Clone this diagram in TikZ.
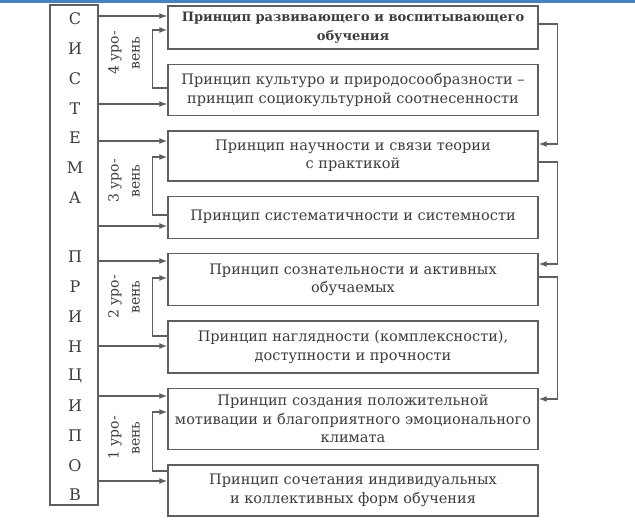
\documentclass[tikz,border=0pt]{standalone}
\usepackage{fontspec}
\setmainfont{DejaVu Serif}
\usepackage{tikz}
\usepackage{xcolor}
\usetikzlibrary{arrows.meta,positioning}
\definecolor{linegray}{RGB}{95,95,95}
\definecolor{textgray}{RGB}{60,60,60}
\definecolor{topblue}{RGB}{70,130,190}

\begin{document}
\begin{tikzpicture}[x=1pt, y=-1pt, node distance=14pt,
        every node/.style={text=textgray},
        pbox/.style={rectangle,draw=linegray,line width=1.4pt,minimum width=370pt,
          inner sep=0pt,align=center,font=\fontsize{14.5}{18.5}\selectfont},
        sysbox/.style={rectangle,draw=linegray,line width=1.4pt,minimum width=48pt,
          minimum height=500pt,inner sep=0pt},
        letter/.style={font=\fontsize{16}{16}\selectfont},
        lvl/.style={rotate=90,align=center,font=\fontsize{14}{21}\selectfont},
        arrow/.style={-{Latex[length=8pt,width=6pt]},draw=linegray,line width=1.2pt}]
        \useasboundingbox (0,0) rectangle (635,530);
        \fill[topblue] (0,0) rectangle (635,3);
        % system column
        \node[sysbox] (sys) at (74,255) {};
        \foreach \ch [count=\i] in {С,И,С,Т,Е,М,А,{},П,Р,И,Н,Ц,И,П,О,В}
          \node[letter] (s\i) at (75,{19+29.75*(\i-1)}) {\ch};
        % principles
        \node[pbox,minimum height=43pt,font=\fontsize{13}{19}\bfseries] (p1) at (353,27.5)
          {Принцип развивающего и воспитывающего\\обучения};
        \node[pbox,minimum height=51pt,below=of p1] (p2)
          {Принцип культуро и природосообразности –\\принцип социокультурной соотнесенности};
        \node[pbox,minimum height=50pt,below=of p2] (p3)
          {Принцип научности и связи теории\\с практикой};
        \node[pbox,minimum height=42pt,below=of p3] (p4)
          {Принцип систематичности и системности};
        \node[pbox,minimum height=52pt,below=of p4] (p5)
          {Принцип сознательности и активных\\обучаемых};
        \node[pbox,minimum height=52pt,below=of p5] (p6)
          {Принцип наглядности (комплексности),\\доступности и прочности};
        \node[pbox,minimum height=61pt,below=of p6] (p7)
          {Принцип создания положительной\\мотивации и благоприятного эмоционального\\климата};
        \node[pbox,minimum height=51pt,below=of p7] (p8)
          {Принцип сочетания индивидуальных\\и коллективных форм обучения};
        % levels
        \node[lvl] (l4) at (124,53) {4 уро-\\вень};
        \node[lvl] (l3) at (124,181) {3 уро-\\вень};
        \node[lvl] (l2) at (124,297) {2 уро-\\вень};
        \node[lvl] (l1) at (124,438) {1 уро-\\вень};
        % from the system to each principle
        \draw[arrow] (sys.east |- 0,16) -- (p1.west |- 0,16);
        \draw[arrow] (sys.east |- 0,104) -- (p2.west |- 0,104);
        \draw[arrow] (sys.east |- 0,141) -- (p3.west |- 0,141);
        \draw[arrow] (sys.east |- 0,226) -- (p4.west |- 0,226);
        \draw[arrow] (sys.east |- 0,261) -- (p5.west |- 0,261);
        \draw[arrow] (sys.east |- 0,346) -- (p6.west |- 0,346);
        \draw[arrow] (sys.east |- 0,396) -- (p7.west |- 0,396);
        \draw[arrow] (sys.east |- 0,481) -- (p8.west |- 0,481);
        % inside a level
        \draw[arrow] (p2.west |- 0,88) -- ++(-15,0) |- (p1.west |- 0,30);
        \draw[arrow] (p4.west |- 0,215) -- ++(-15,0) |- (p3.west |- 0,157);
        \draw[arrow] (p6.west |- 0,336) -- ++(-15,0) |- (p5.west |- 0,278);
        \draw[arrow] (p8.west |- 0,471) -- ++(-15,0) |- (p7.west |- 0,412);
        % from level to level
        \draw[arrow] (p1.east |- 0,24) -- ++(19,0) |- (p3.east |- 0,144);
        \draw[arrow] (p3.east |- 0,162) -- ++(19,0) |- (p5.east |- 0,264);
        \draw[arrow] (p5.east |- 0,277) -- ++(19,0) |- (p7.east |- 0,399);
      \end{tikzpicture}
\end{document}
